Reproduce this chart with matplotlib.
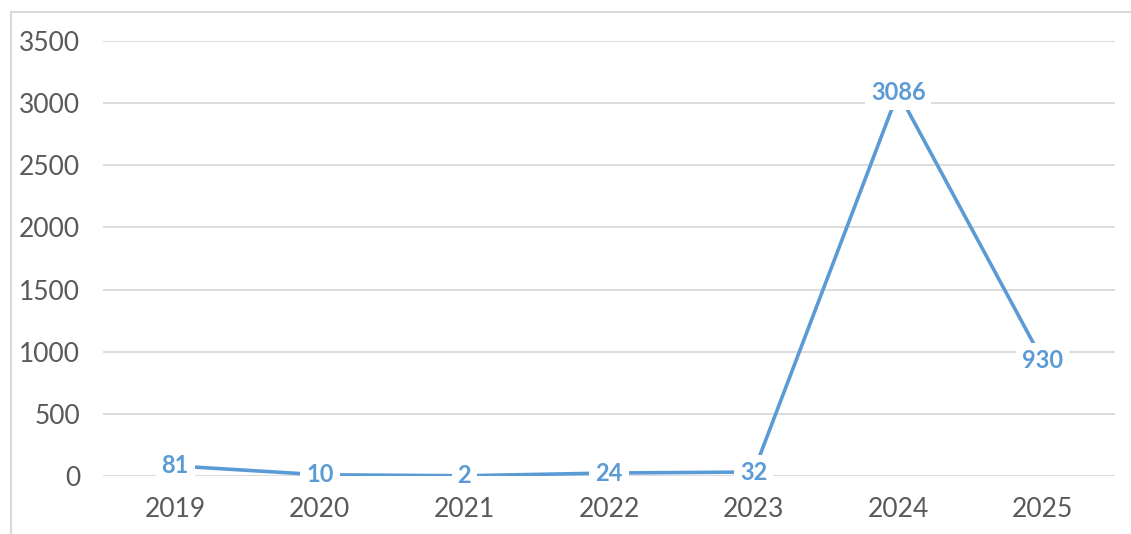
import matplotlib.pyplot as plt
from matplotlib.patches import Rectangle

years = ["2019", "2020", "2021", "2022", "2023", "2024", "2025"]
counts = [81, 10, 2, 24, 32, 3086, 930]
yticks = [0, 500, 1000, 1500, 2000, 2500, 3000, 3500]

blue = "#5B9BD5"
grid = "#D9D9D9"
text_grey = "#595959"

plt.rcParams["font.family"] = ["Lato", "DejaVu Sans"]

fig = plt.figure(figsize=(11.31, 5.34), dpi=100)
ax = fig.add_axes([103 / 1131, 1 - 476 / 534, 1012 / 1131, 435 / 534])

# chart border (cropped on right/bottom in the reference)
fig.patches.append(Rectangle((11 / 1131, -0.1), 1.2, 1 - 12 / 534 + 0.1,
                             transform=fig.transFigure, fill=False,
                             edgecolor=grid, linewidth=1.5, zorder=0))

x = list(range(len(years)))
ax.plot(x, counts, color=blue, linewidth=2.6, zorder=3, solid_capstyle="butt")

for xi, v in zip(x, counts):
    ax.text(xi, v, str(v), ha="center", va="center", color=blue,
            fontsize=17, fontweight="bold", zorder=4,
            bbox=dict(boxstyle="square,pad=0.25", facecolor="white",
                      edgecolor="none"))

ax.set_xlim(-0.5, len(years) - 0.5)
ax.set_ylim(0, 3500)
ax.set_xticks(x)
ax.set_xticklabels(years)
ax.set_yticks(yticks)
ax.set_yticklabels([str(t) for t in yticks])
ax.tick_params(axis="both", length=0, labelsize=19, colors=text_grey)
ax.tick_params(axis="y", pad=16.5)
ax.tick_params(axis="x", pad=15)

ax.grid(axis="y", color=grid, linewidth=1.3)
ax.set_axisbelow(True)
for s in ax.spines.values():
    s.set_visible(False)

fig.savefig("out.png", dpi=100)
